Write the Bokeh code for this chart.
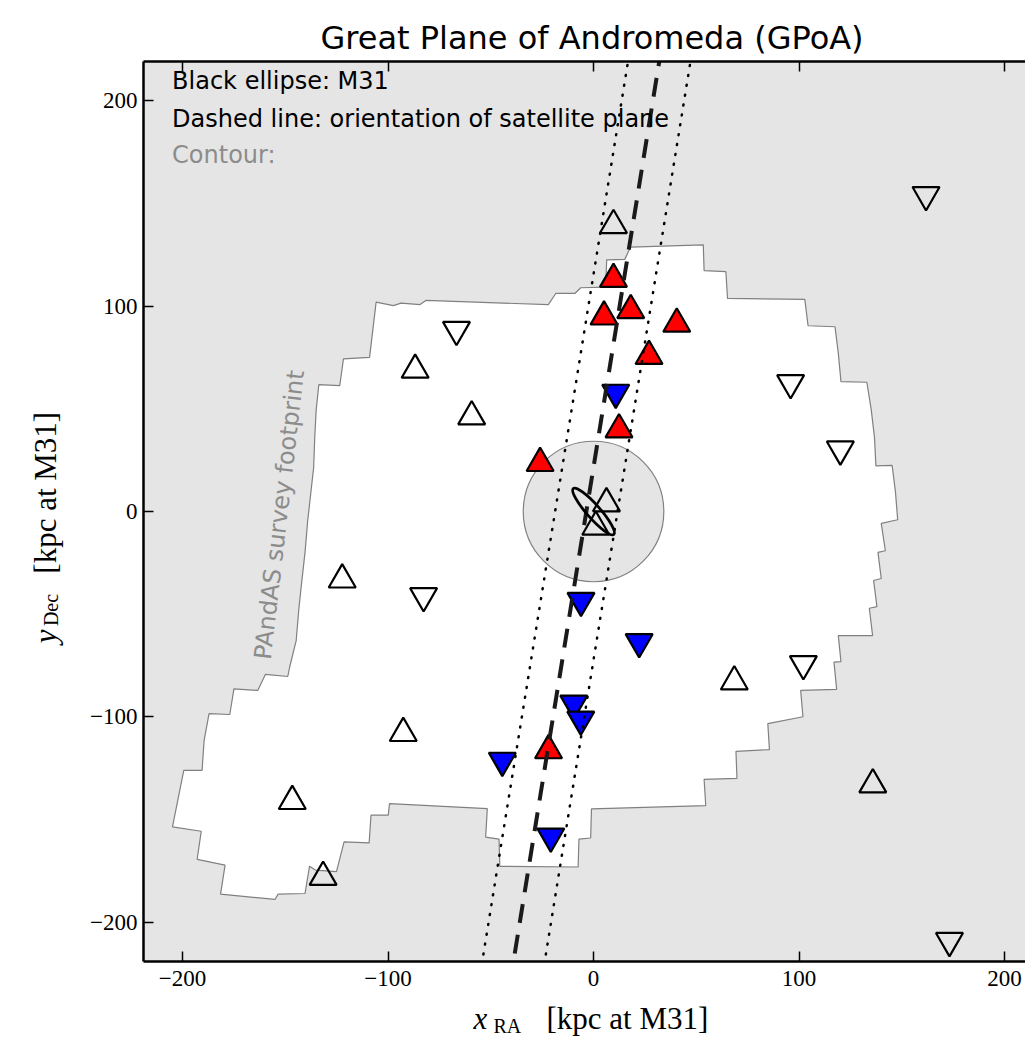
import math

from bokeh.embed import file_html
from bokeh.layouts import column, row
from bokeh.models import CustomJSTickFormatter, FixedTicker, Label, LinearAxis, Range1d
from bokeh.plotting import figure
from bokeh.resources import INLINE

# ---------------------------------------------------------------------------
# Satellite positions (kpc, projected at the distance of M31)
# ---------------------------------------------------------------------------
# on-plane, approaching (red, pointing up)
red_up_x = [9.7, 5.1, 18.1, 40.5, 27.0, 12.4, -26.0, -21.9]
red_up_y = [113.1, 94.8, 97.9, 91.3, 75.6, 39.9, 23.5, -116.3]
# on-plane, receding (blue, pointing down)
blue_dn_x = [10.8, -6.1, 22.2, -9.6, -6.2, -44.4, -20.8]
blue_dn_y = [57.9, -43.4, -63.5, -93.4, -101.2, -121.2, -158.1]
# off-plane satellites (open symbols)
open_up_x = [9.7, -86.8, -59.3, -122.3, 6.3, 1.1, 68.5, -92.6, -146.6, -131.6, 135.9]
open_up_y = [139.3, 68.9, 46.2, -33.2, 3.9, -7.5, -82.8, -107.9, -141.0, -177.9, -132.9]
open_dn_x = [161.8, -66.7, 95.9, 120.1, -82.7, 102.1, 173.2]
open_dn_y = [154.1, 88.5, 62.6, 30.3, -41.1, -74.2, -208.9]

# PAndAS survey footprint outline (kpc)
foot_x = [-105.8, -97.4, -93.7, -84.4, -81.6, -22.0, -18.3, -9.0, -6.2, 5.9,
          6.4, 15.2, 18.0, 53.4, 53.8, 64.4, 65.2, 102.8, 104.4, 117.5,
          119.1, 120.4, 133.0, 135.1, 136.7, 137.4, 145.3, 146.9, 148.0, 140.0,
          142.0, 138.4, 140.0, 136.3, 137.9, 134.2, 135.8, 119.1, 120.4, 117.0,
          118.3, 100.8, 101.9, 84.8, 85.6, 69.3, 69.8, 53.8, 54.6, -1.0,
          -1.4, -7.1, -7.5, -45.6, -46.0, -52.5, -51.7, -99.3, -99.9, -108.3,
          -109.2, -121.4, -125.1, -135.4, -138.2, -140.4, -153.5, -155.0, -181.5, -179.3,
          -192.9, -190.9, -204.9, -199.4, -190.5, -189.5, -187.1, -177.0, -175.0, -163.4,
          -159.7, -148.8, -147.9, -144.7, -143.4, -142.3, -140.4, -139.1, -136.2, -135.7,
          -135.0, -133.7, -123.5, -121.7, -109.0]
foot_y = [101.9, 100.2, 101.4, 100.7, 102.7, 100.7, 106.2, 106.2, 108.9, 109.2,
          122.5, 122.7, 128.7, 129.8, 117.2, 116.7, 103.7, 103.2, 90.4, 89.9,
          77.0, 63.2, 62.9, 49.7, 36.2, 22.2, 22.4, 9.7, -4.0, -5.8,
          -19.1, -19.9, -32.6, -33.6, -46.3, -47.1, -60.4, -60.4, -73.1, -73.3,
          -86.6, -87.1, -99.9, -103.2, -115.9, -116.7, -129.9, -130.4, -143.1, -144.7,
          -158.9, -159.4, -173.0, -172.7, -159.4, -158.5, -144.6, -142.2, -147.8, -147.8,
          -161.3, -160.8, -175.3, -174.5, -172.6, -185.9, -186.2, -188.8, -186.2, -172.1,
          -169.3, -155.6, -153.5, -126.0, -126.0, -111.4, -98.4, -98.8, -86.3, -87.1,
          -79.3, -80.3, -75.8, -62.8, -47.4, -36.9, -19.9, -4.5, 21.4, 35.3,
          49.1, 61.7, 61.3, 74.3, 75.0]

# Satellite plane: x offset at y=0, tilt from north (deg), half-width (kpc)
plane_offset = -3.5
plane_tilt_deg = 9.2
plane_halfwidth = 15.0

# M31 disc (ellipse) and inner exclusion circle
m31_major = 29.8
m31_minor = 6.5
m31_angle_deg = 131.4
inner_radius = 34.2

tick_values = [-200, -100, 0, 100, 200]

TITLE = "Great Plane of Andromeda (GPoA)"

# ---------------------------------------------------------------------------
# main panel
# ---------------------------------------------------------------------------
p = figure(width=955, height=998,
           x_range=Range1d(-219, 210.2), y_range=Range1d(-219, 219),
           output_backend="svg", toolbar_location=None,
           min_border_left=73, min_border_right=0,
           min_border_top=61, min_border_bottom=37)
p.background_fill_color = "#e5e5e5"
p.border_fill_color = "white"
p.outline_line_color = None
p.grid.visible = False

p.title.text = TITLE
p.title.text_font = "DejaVu Sans"
p.title.text_font_size = "32px"
p.title.text_font_style = "normal"
p.title.text_color = "black"
p.title.align = "left"
p.title.offset = 177
p.title.standoff = 10

bottom_axis = p.xaxis[0]
left_axis = p.yaxis[0]
top_axis = LinearAxis()
p.add_layout(top_axis, "above")

ticker = FixedTicker(ticks=tick_values)
fmt = CustomJSTickFormatter(code="return (tick < 0 ? '\u2212' : '') + Math.abs(tick).toFixed(0);")

for ax in (bottom_axis, left_axis, top_axis):
    ax.ticker = ticker
    ax.formatter = fmt
    ax.axis_line_width = 2.5
    ax.axis_line_color = "black"
    ax.major_tick_in = 10
    ax.major_tick_out = 0
    ax.major_tick_line_width = 1.5
    ax.major_tick_line_color = "black"
    ax.minor_tick_line_color = None
    ax.major_label_text_font = "Liberation Serif"
    ax.major_label_text_font_size = "23px"
    ax.major_label_text_color = "black"

top_axis.major_label_text_font_size = "0px"
top_axis.major_label_text_color = None
top_axis.major_label_standoff = 0
bottom_axis.major_label_standoff = 9
left_axis.major_label_standoff = 6

# footprint and inner circle
p.patch(foot_x, foot_y, fill_color="white", line_color="#808080", line_width=1.2)
p.circle(x=[0], y=[0], radius=inner_radius, fill_color="#e5e5e5",
         line_color="#808080", line_width=1.2)

# satellites
MSIZE = 27
p.scatter(open_up_x, open_up_y, marker="triangle", size=MSIZE,
          fill_color=None, line_color="black", line_width=2.2)
p.scatter(open_dn_x, open_dn_y, marker="inverted_triangle", size=MSIZE,
          fill_color=None, line_color="black", line_width=2.2)
p.scatter(red_up_x, red_up_y, marker="triangle", size=MSIZE,
          fill_color="red", line_color="black", line_width=2.2)
p.scatter(blue_dn_x, blue_dn_y, marker="inverted_triangle", size=MSIZE,
          fill_color="blue", line_color="black", line_width=2.2)

# plane orientation and its width
tilt = math.tan(math.radians(plane_tilt_deg))
shift = plane_halfwidth / math.cos(math.radians(plane_tilt_deg))
y_ends = [-230, 230]
for off in (-shift, shift):
    p.line([plane_offset + off + tilt * yy for yy in y_ends], y_ends,
           line_color="black", line_width=2.5, line_dash="1 9", line_cap="round")
p.line([plane_offset + tilt * yy for yy in y_ends], y_ends,
       line_color="#1a1a1a", line_width=4, line_dash="19 12")

# M31
p.ellipse(x=[0], y=[0], width=m31_major, height=m31_minor,
          angle=math.radians(m31_angle_deg), fill_color=None,
          line_color="black", line_width=2.8)


def add_text(fig, x, y, text, size, font="DejaVu Sans", color="black",
             style="normal", angle=0.0, align="left"):
    fig.add_layout(Label(x=x, y=y, text=text, text_font=font, text_font_size=size,
                         text_color=color, text_font_style=style, angle=angle,
                         text_align=align, text_baseline="middle"))


# annotation block
add_text(p, -205.1, 209.4, "Black ellipse: M31", "24px")
add_text(p, -205.1, 191.2, "Dashed line: orientation of satellite plane", "24px")
add_text(p, -205.1, 173.3, "Contour:", "24px", color="#8c8c8c")

# footprint caption
add_text(p, -161.0, -72.0, "PAndAS survey footprint", "24px", color="#8c8c8c",
         angle=math.radians(83.4))


# ---------------------------------------------------------------------------
# axis-label strips (same kpc scale as the main panel)
# ---------------------------------------------------------------------------
def label_strip(width, height, xr, yr):
    f = figure(width=width, height=height, x_range=Range1d(*xr), y_range=Range1d(*yr),
               x_axis_type=None, y_axis_type=None, output_backend="svg",
               toolbar_location=None, min_border=0)
    f.outline_line_color = None
    f.grid.visible = False
    f.background_fill_color = "white"
    f.border_fill_color = "white"
    return f


ylab = label_strip(70, 998, (-288.5, -254.4), (-237.4, 248.8))
add_text(ylab, -266.6, -65.5, "y", "31px", font="Liberation Serif", style="italic",
         angle=math.pi / 2)
add_text(ylab, -264.1, -56.2, "Dec", "20px", font="Liberation Serif", angle=math.pi / 2)
add_text(ylab, -266.6, -27.9, "[kpc at M31]", "31px", font="Liberation Serif",
         angle=math.pi / 2)

xlab = label_strip(1025, 44, (-288.5, 210.3), (-258.9, -237.4))
add_text(xlab, -58.3, -247.2, "x", "31px", font="Liberation Serif", style="italic")
add_text(xlab, -48.6, -250.6, "RA", "20px", font="Liberation Serif")
add_text(xlab, -22.8, -247.2, "[kpc at M31]", "31px", font="Liberation Serif")

layout = column(row(ylab, p), xlab)

open("out.html", "w").write(file_html(layout, INLINE))
